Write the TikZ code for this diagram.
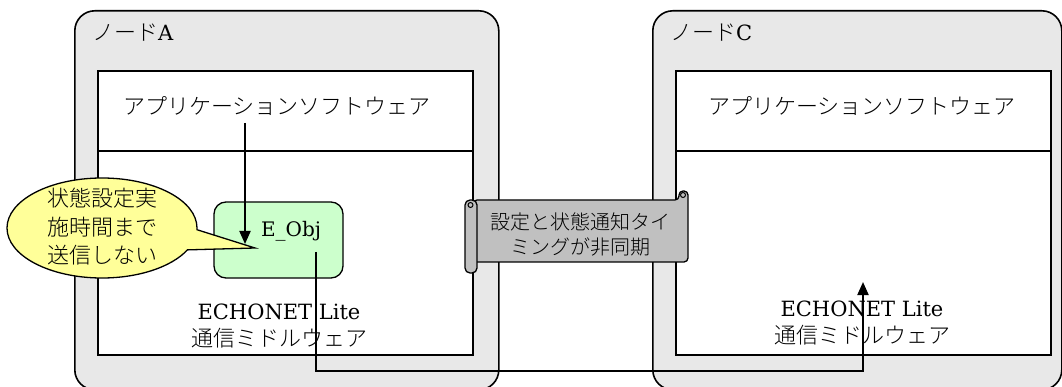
\documentclass[tikz,border=0pt]{standalone}
\usepackage{fontspec}
\setmainfont{DejaVu Serif}
\newfontfamily\jp{Noto Sans CJK JP Light}
\usetikzlibrary{shapes.callouts,arrows.meta}
\definecolor{nodegray}{HTML}{E8E8E8}
\definecolor{objgreen}{HTML}{CCFFCC}
\definecolor{noteyellow}{HTML}{FFFF99}
\definecolor{scrollgray}{HTML}{C0C0C0}

\begin{document}
\begin{tikzpicture}[x=1pt, y=-1pt,
    outerbox/.style={draw, line width=1.6pt, fill=nodegray, rounded corners=20pt, anchor=north west, inner sep=0pt},
    innerbox/.style={draw, line width=1.6pt, fill=white, anchor=north west, inner sep=0pt},
    txt/.style={font=\fontsize{21}{27}\selectfont, inner sep=0pt},
    jptxt/.style={font=\jp\fontsize{22}{28}\selectfont, inner sep=0pt},
    msg/.style={line width=2pt, -{Triangle[length=13pt,width=11pt]}},
    scrollpart/.style={draw, line width=1.3pt, fill=scrollgray, rounded corners=4pt}]
    \useasboundingbox (0,0) rectangle (1062,387);

    \node[outerbox, minimum width=424pt, minimum height=379pt] (nodeA) at (74,10) {};
    \node[outerbox, minimum width=409pt, minimum height=379pt] (nodeC) at (652,10) {};

    \node[innerbox, minimum width=375pt, minimum height=80pt] (appA) at (97,70) {};
    \node[innerbox, minimum width=375pt, minimum height=204pt] (mwA) at (97,150) {};
    \node[innerbox, minimum width=375pt, minimum height=80pt] (appC) at (675,70) {};
    \node[innerbox, minimum width=375pt, minimum height=204pt] (mwC) at (675,150) {};

    \node[txt, anchor=west] (nameA) at (92,33) {{\jp\fontsize{22}{28}\selectfont ノード}A};
    \node[txt, anchor=west] (nameC) at (670,33) {{\jp\fontsize{22}{28}\selectfont ノード}C};
    \node[jptxt] (appAtext) at (277,106) {アプリケーションソフトウェア};
    \node[jptxt] (appCtext) at (862,106) {アプリケーションソフトウェア};
    \node[txt, align=center] (mwAtext) at (279,326) {ECHONET Lite\\{\jp\fontsize{22}{28}\selectfont 通信ミドルウェア}};
    \node[txt, align=center] (mwCtext) at (862,323) {ECHONET Lite\\{\jp\fontsize{22}{28}\selectfont 通信ミドルウェア}};

    \node[draw, line width=1.3pt, fill=objgreen, rounded corners=12pt, minimum width=129pt, minimum height=76pt, inner sep=0pt] (eobj) at (278.5,240) {};
    \node[txt, font=\fontsize{20}{24}\selectfont] (eobjtext) at (291,231) {E\_Obj};

    \coordinate (setfrom) at (245,123);
    \coordinate (setto) at (245,244);
    \coordinate (notifyfrom) at (316,252);
    \coordinate (notifybend) at (863,371);
    \coordinate (notifyto) at (863,282);
    \draw[msg] (setfrom) -- (setto);
    \draw[msg] (notifyfrom) |- (notifybend) -- (notifyto);

    \node[ellipse callout, draw, line width=1.3pt, fill=noteyellow, minimum width=190pt, minimum height=100pt, inner sep=0pt,
        callout absolute pointer={(255,248)}, callout pointer arc=24] (note) at (102,228) {};
    \node[jptxt, font=\jp\fontsize{22}{28.5}\selectfont, align=center] (notetext) at (102,227) {状態設定実\\施時間まで\\送信しない};

    \draw[scrollpart] (473,200) -- (679,200) -- (679,191) -- (688,191) -- (688,262) -- (473,262) -- cycle;
    \draw[line width=1pt] (683,195) circle[radius=2.5];
    \draw[scrollpart, rounded corners=5pt] (465,200) -- (477,200) -- (477,273) -- (465,273) -- cycle;
    \draw[line width=1pt] (470.5,205) circle[radius=2.5];
    \node[jptxt, font=\jp\fontsize{20}{25}\selectfont, align=center] (synctext) at (580,234) {設定と状態通知タイ\\ミングが非同期};
\end{tikzpicture}
\end{document}
